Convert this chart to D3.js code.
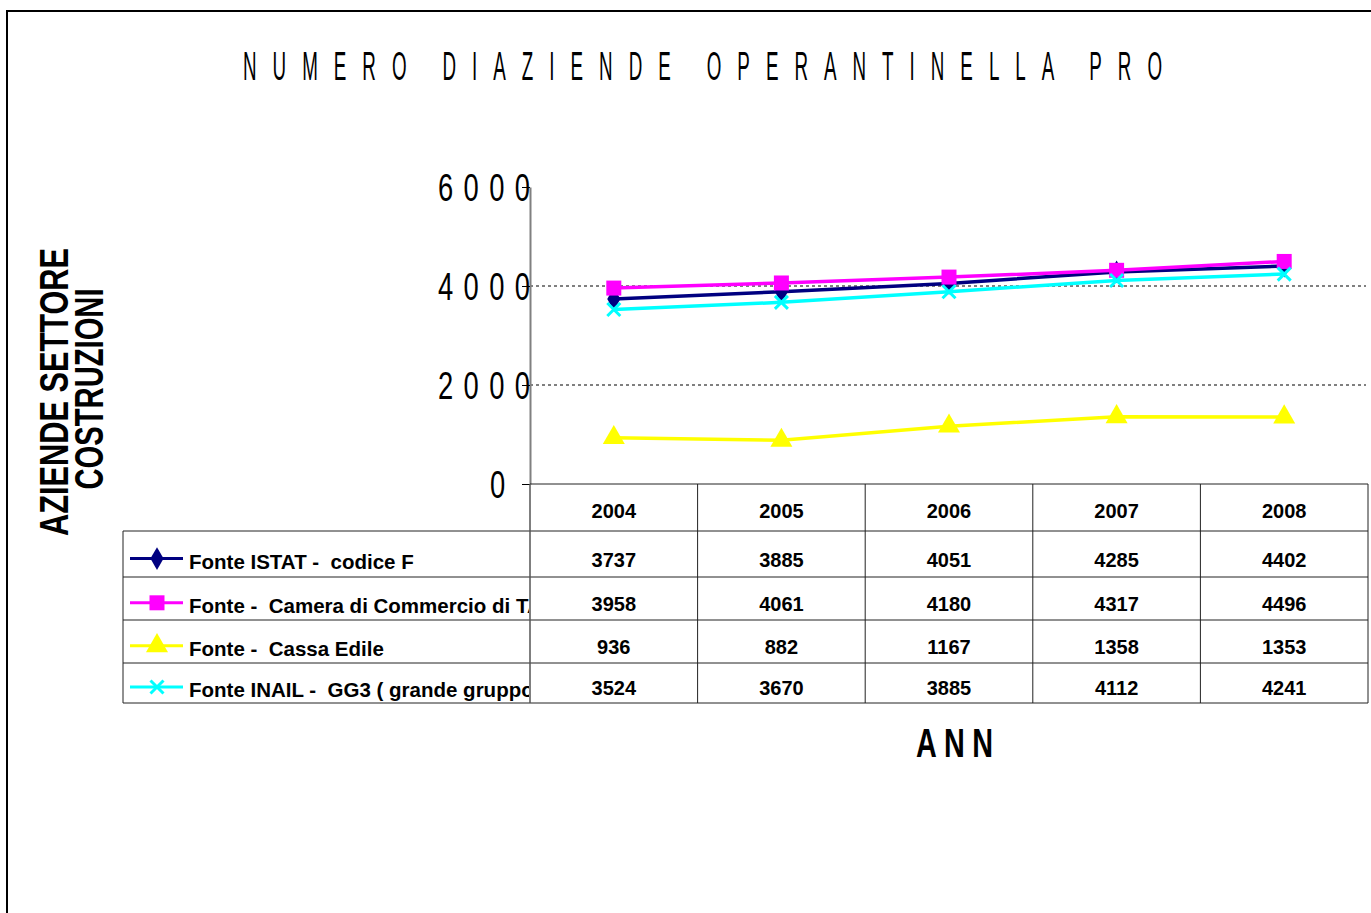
<!DOCTYPE html>
<html>
<head>
<meta charset="utf-8">
<script src="https://cdn.jsdelivr.net/npm/d3@7"></script>
<style>
  body { margin: 0; background: #fff; }
  svg { display: block; font-family: "Liberation Sans", Arial, sans-serif; }
</style>
</head>
<body>
<script>
// Data
const years = ['2004', '2005', '2006', '2007', '2008'];
const istat = [3737, 3885, 4051, 4285, 4402];
const camera = [3958, 4061, 4180, 4317, 4496];
const cassa = [936, 882, 1167, 1358, 1353];
const inail = [3524, 3670, 3885, 4112, 4241];
const seriesNames = [
  'Fonte ISTAT -  codice F',
  'Fonte -  Camera di Commercio di TA',
  'Fonte -  Cassa Edile',
  'Fonte INAIL -  GG3 ( grande gruppo'
];
const yTicks = [0, 2000, 4000, 6000];

const W = 1371, H = 913;
const plot = { left: 530, right: 1368, top: 187, bottom: 484 };
const rowLines = [531, 577, 620, 663, 703];
const tableLeft = 123;

const series = [
  { name: seriesNames[0], values: istat, color: '#000080', marker: 'diamond' },
  { name: seriesNames[1], values: camera, color: '#ff00ff', marker: 'square' },
  { name: seriesNames[2], values: cassa, color: '#ffff00', marker: 'triangle' },
  { name: seriesNames[3], values: inail, color: '#00ffff', marker: 'x' }
];

const svg = d3.select('body').append('svg')
  .attr('width', W)
  .attr('height', H);

// Outer frame
svg.append('rect')
  .attr('x', 7).attr('y', 11)
  .attr('width', W + 20).attr('height', H + 20)
  .attr('fill', '#fff')
  .attr('stroke', '#000')
  .attr('stroke-width', 2);

// Text with spread letters, squeezed horizontally.
// gap = real width of a word gap (space slot)
function spread(sel, str, x0, x1, y, size, weight, s, gap) {
  const t = sel.append('text')
    .attr('transform', `translate(${x0},${y}) scale(${s},1)`)
    .attr('font-size', size)
    .attr('font-weight', weight)
    .text(str);
  const w = t.node().getComputedTextLength();
  const n = str.length;
  if (n < 2) return t;
  const k = (str.match(/ /g) || []).length;
  const spaceAdv = 0.278 * size;
  const Tu = (x1 - x0) / s;
  if (k && gap) {
    const gu = gap / s;
    const ls = (Tu - (w - k * spaceAdv) - k * gu) / (n - 1 - k);
    t.attr('letter-spacing', ls).attr('word-spacing', gu - spaceAdv - ls);
  } else {
    t.attr('letter-spacing', (Tu - w) / (n - 1));
  }
  return t;
}

// Title
spread(svg, 'NUMERO DIAZIENDE OPERANTINELLA PRO', 243, 1162, 80, 40, 'normal', 0.47, 20);

// Scales
const x = d3.scaleBand()
  .domain(years)
  .range([plot.left, plot.right]);

const y = d3.scaleLinear()
  .domain([0, 6000])
  .range([plot.bottom, plot.top]);

// Grid lines
svg.append('g')
  .selectAll('line')
  .data(yTicks.filter(d => d > 0 && d < 6000))
  .join('line')
  .attr('x1', plot.left).attr('x2', plot.right - 2)
  .attr('y1', d => y(d)).attr('y2', d => y(d))
  .attr('stroke', '#000')
  .attr('stroke-width', 1)
  .attr('stroke-dasharray', '3,3');

// Y axis
const yAxis = svg.append('g')
  .attr('transform', `translate(${plot.left},0)`)
  .call(d3.axisLeft(y).tickValues(yTicks).tickSize(8).tickSizeOuter(0).tickFormat(d3.format('d')));

yAxis.select('.domain').attr('stroke', '#808080').attr('stroke-width', 2);
yAxis.selectAll('.tick line').attr('stroke', '#000');
yAxis.selectAll('.tick text')
  .attr('font-family', '"Liberation Sans", Arial, sans-serif')
  .attr('font-size', 38)
  .attr('fill', '#000')
  .attr('text-anchor', 'start')
  .attr('x', 0)
  .attr('dy', '0.35em')
  .each(function (d) {
    const t = d3.select(this);
    const s = 0.72;
    const str = String(d);
    const x1 = d === 0 ? -25 : 0;
    const x0 = d === 0 ? -40 : -92;
    t.attr('transform', `translate(${x0},0) scale(${s},1)`);
    const w = this.getComputedTextLength();
    if (str.length > 1) t.attr('letter-spacing', ((x1 - x0) / s - w) / (str.length - 1));
  });

// Y axis title
svg.append('text')
  .attr('transform', 'translate(68,392) rotate(-90) scale(0.75,1)')
  .attr('text-anchor', 'middle')
  .attr('font-size', 41)
  .attr('font-weight', 'bold')
  .text('AZIENDE SETTORE');

svg.append('text')
  .attr('transform', 'translate(103,389) rotate(-90) scale(0.73,1)')
  .attr('text-anchor', 'middle')
  .attr('font-size', 40)
  .attr('font-weight', 'bold')
  .text('COSTRUZIONI');

// Marker shapes
function markerPath(type) {
  if (type === 'diamond') return d3.symbol(d3.symbolDiamond, 150)();
  if (type === 'square') return d3.symbol(d3.symbolSquare, 225)();
  if (type === 'triangle') return d3.symbol(d3.symbolTriangle, 210)();
  return 'M-6.5,-6.5L6.5,6.5M-6.5,6.5L6.5,-6.5';
}

function drawMarker(g, type, color) {
  const p = g.append('path').attr('d', markerPath(type));
  if (type === 'x') p.attr('fill', 'none').attr('stroke', color).attr('stroke-width', 3);
  else p.attr('fill', color);
}

const cx = d => x(d) + x.bandwidth() / 2;

const line = d3.line()
  .x((d, i) => cx(years[i]))
  .y(d => y(d));

// Lines and markers
series.forEach(s => {
  const g = svg.append('g');
  g.append('path')
    .attr('d', line(s.values))
    .attr('fill', 'none')
    .attr('stroke', s.color)
    .attr('stroke-width', 3.5);
  s.values.forEach((v, i) => {
    const m = g.append('g').attr('transform', `translate(${cx(years[i])},${y(v)})`);
    drawMarker(m, s.marker, s.color);
  });
});

// Data table
const table = svg.append('g');
const tStroke = '#222';

// horizontal lines
table.append('line')
  .attr('x1', plot.left).attr('x2', plot.right)
  .attr('y1', plot.bottom).attr('y2', plot.bottom)
  .attr('stroke', tStroke);
rowLines.forEach(r => {
  table.append('line')
    .attr('x1', tableLeft).attr('x2', plot.right)
    .attr('y1', r).attr('y2', r)
    .attr('stroke', tStroke);
});

// vertical lines
years.forEach(yr => {
  table.append('line')
    .attr('x1', x(yr) + x.bandwidth()).attr('x2', x(yr) + x.bandwidth())
    .attr('y1', plot.bottom).attr('y2', rowLines[rowLines.length - 1])
    .attr('stroke', tStroke);
});
table.append('line')
  .attr('x1', plot.left).attr('x2', plot.left)
  .attr('y1', plot.bottom).attr('y2', rowLines[rowLines.length - 1])
  .attr('stroke', '#555').attr('stroke-width', 1.5);
table.append('line')
  .attr('x1', tableLeft).attr('x2', tableLeft)
  .attr('y1', rowLines[0]).attr('y2', rowLines[rowLines.length - 1])
  .attr('stroke', tStroke);

// header years
table.selectAll('.yr')
  .data(years)
  .join('text')
  .attr('class', 'yr')
  .attr('x', d => cx(d))
  .attr('y', 518)
  .attr('text-anchor', 'middle')
  .attr('font-size', 20)
  .attr('font-weight', 'bold')
  .text(d => d);

svg.append('clipPath').attr('id', 'legclip')
  .append('rect')
  .attr('x', tableLeft).attr('y', rowLines[0])
  .attr('width', plot.left - tableLeft - 1)
  .attr('height', rowLines[rowLines.length - 1] - rowLines[0]);

const legendG = table.append('g').attr('clip-path', 'url(#legclip)');

series.forEach((s, k) => {
  const top = rowLines[k], h = rowLines[k + 1] - top;
  const ky = top + 0.6 * h;

  // legend key
  legendG.append('line')
    .attr('x1', 130).attr('x2', 183)
    .attr('y1', ky).attr('y2', ky)
    .attr('stroke', s.color)
    .attr('stroke-width', 3);
  drawMarker(legendG.append('g').attr('transform', `translate(157,${ky})`), s.marker, s.color);

  legendG.append('text')
    .attr('x', 189)
    .attr('y', ky + 10)
    .attr('font-size', 20.5)
    .attr('font-weight', 'bold')
    .style('white-space', 'pre')
    .text(s.name);

  // values
  table.selectAll(null)
    .data(s.values)
    .join('text')
    .attr('x', (d, i) => cx(years[i]))
    .attr('y', ky + 8)
    .attr('text-anchor', 'middle')
    .attr('font-size', 20)
    .attr('font-weight', 'bold')
    .text(d => d);
});

// X axis title
spread(svg, 'ANN', 916, 993, 757, 40, 'bold', 0.72);
</script>
</body>
</html>
